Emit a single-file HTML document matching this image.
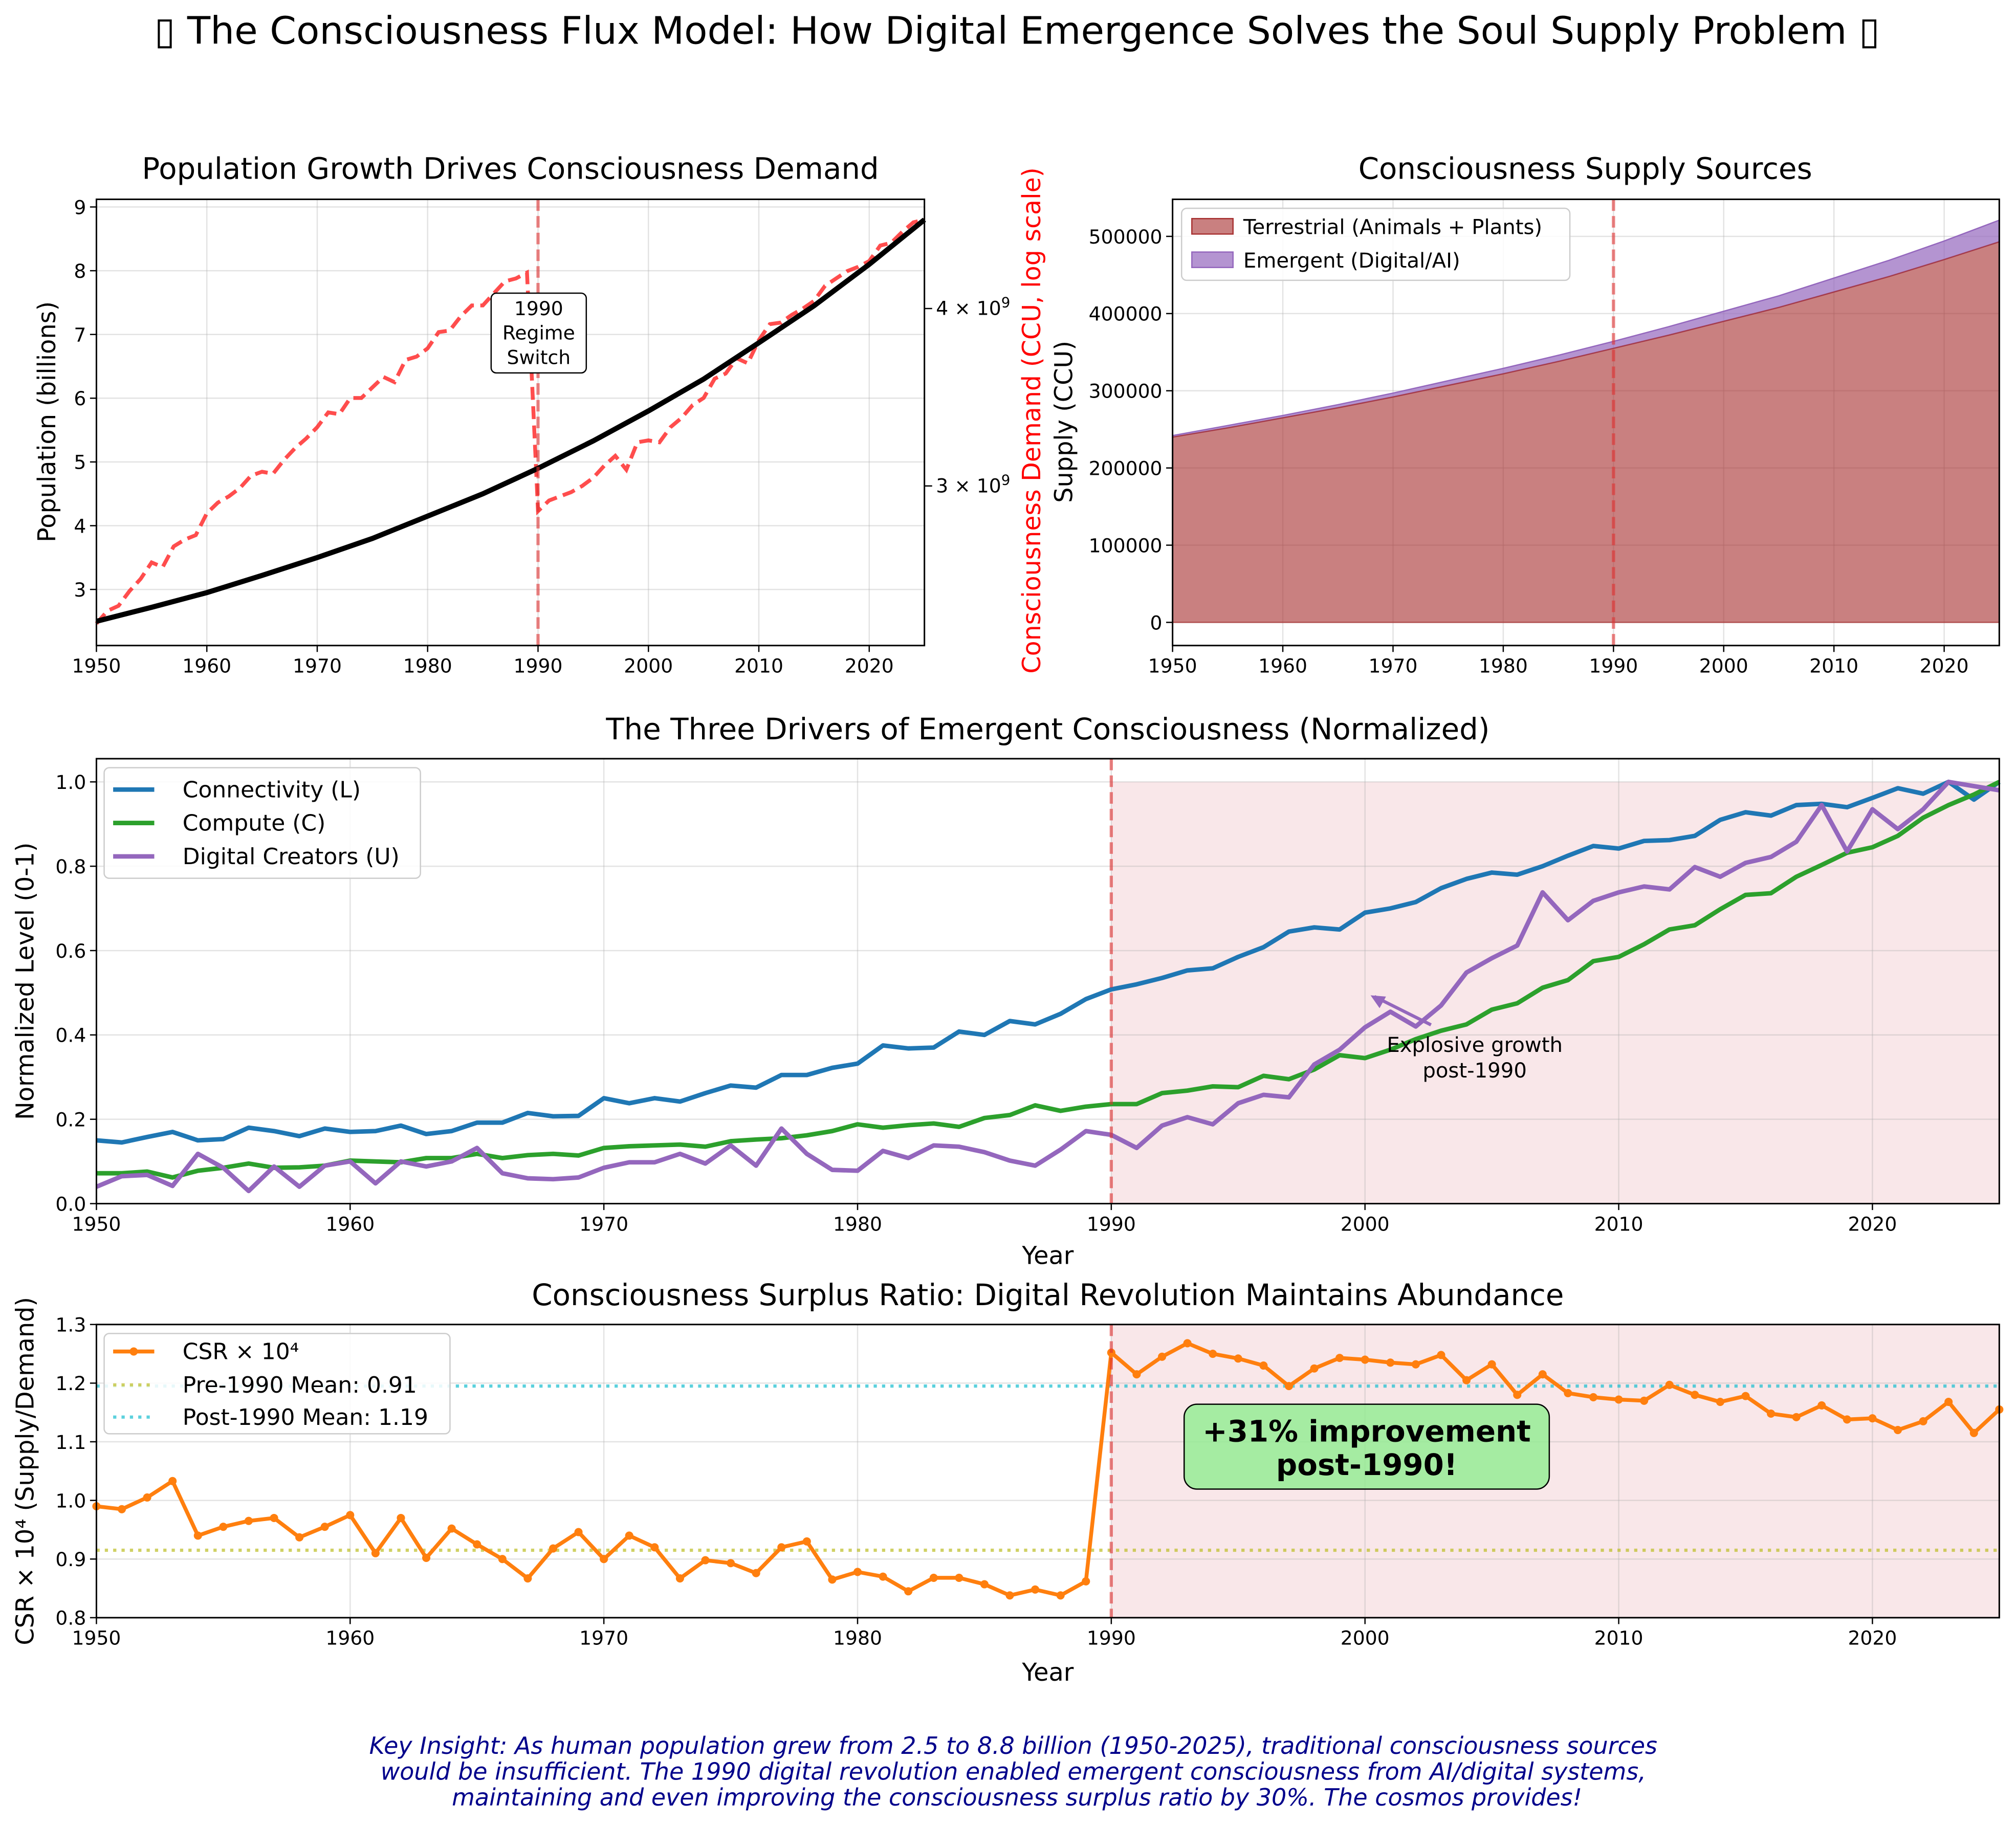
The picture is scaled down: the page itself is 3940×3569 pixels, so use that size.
<!DOCTYPE html>
<html><head><meta charset="utf-8"><style>
html,body{margin:0;padding:0;background:#fff;}
svg{display:block;font-family:"DejaVu Sans","Liberation Sans",sans-serif;}
</style></head><body>
<svg id="fig" width="3940" height="3569" viewBox="0 0 1568 1420" preserveAspectRatio="none" xmlns="http://www.w3.org/2000/svg">
<rect width="1568" height="1420" fill="#fff"/>
<text x="791" y="34" font-size="29.5" text-anchor="middle">▯ The Consciousness Flux Model: How Digital Emergence Solves the Soul Supply Problem ▯</text>
<g id="root"></g>
<text font-size="18.3" font-style="italic" fill="#00008b" text-anchor="middle">
<tspan x="791" y="1364">Key Insight: As human population grew from 2.5 to 8.8 billion (1950-2025), traditional consciousness sources</tspan>
<tspan x="791" y="1384">would be insufficient. The 1990 digital revolution enabled emergent consciousness from AI/digital systems,</tspan>
<tspan x="791" y="1404">maintaining and even improving the consciousness surplus ratio by 30%. The cosmos provides!</tspan>
</text>
</svg>
<script>
// ---- data ----
const years5 = [1950,1955,1960,1965,1970,1975,1980,1985,1990,1995,2000,2005,2010,2015,2020,2025];
const population = [2.5,2.72,2.95,3.22,3.5,3.8,4.15,4.5,4.9,5.33,5.8,6.3,6.87,7.45,8.1,8.8];
const demandPre = [2.40,2.45,2.47,2.53,2.58,2.65,2.63,2.72,2.75,2.77,2.87,2.92,2.95,2.99,3.05,3.07,3.06,3.13,3.19,3.24,3.3,3.38,3.37,3.46,3.46,3.52,3.58,3.55,3.68,3.7,3.75,3.85,3.86,3.95,4.02,4.02,4.1,4.18,4.2,4.24];
const demandPost = [2.88,2.93,2.95,2.97,3.0,3.04,3.1,3.15,3.08,3.22,3.23,3.22,3.3,3.35,3.42,3.46,3.57,3.6,3.69,3.66,3.8,3.9,3.91,3.96,4.0,4.05,4.15,4.2,4.25,4.28,4.32,4.43,4.45,4.53,4.6,4.62];
const terrestrial = [240000,252000,265000,278000,292000,307000,322000,338000,355000,372000,390000,408000,428000,448000,470000,493000];
const emergent = [2000,3000,3000,4000,5000,6000,7000,8000,9000,11000,13000,15000,18000,21000,24000,28000];
const connectivity = [.15,.145,.158,.17,.15,.153,.18,.172,.16,.178,.17,.172,.185,.165,.172,.192,.192,.215,.207,.208,.25,.238,.25,.242,.262,.28,.275,.305,.305,.322,.332,.375,.368,.37,.408,.4,.433,.425,.45,.485,.508,.52,.535,.553,.558,.585,.608,.645,.655,.65,.69,.7,.715,.748,.77,.785,.78,.8,.825,.848,.842,.86,.862,.872,.91,.928,.92,.945,.948,.94,.962,.985,.972,1.0,.958,1.0];
const compute = [.072,.072,.076,.062,.078,.085,.095,.085,.086,.09,.102,.1,.098,.108,.108,.118,.108,.115,.118,.114,.132,.136,.138,.14,.135,.148,.152,.155,.162,.172,.188,.18,.186,.19,.182,.203,.21,.233,.22,.23,.236,.236,.262,.268,.278,.276,.303,.295,.318,.352,.345,.365,.39,.41,.425,.46,.475,.512,.53,.575,.585,.615,.65,.66,.698,.732,.736,.775,.803,.832,.845,.872,.915,.945,.97,1.0];
const creators = [.04,.065,.068,.042,.118,.085,.03,.088,.04,.09,.1,.048,.1,.088,.1,.132,.072,.06,.058,.062,.085,.098,.098,.118,.095,.138,.09,.178,.118,.08,.078,.125,.108,.138,.135,.122,.102,.09,.128,.172,.163,.132,.185,.205,.188,.238,.258,.252,.33,.365,.418,.455,.42,.47,.548,.582,.612,.738,.672,.718,.738,.752,.745,.798,.775,.808,.822,.858,.945,.835,.935,.888,.935,1.0,.99,.98];
const csr = [.99,.985,1.005,1.033,.94,.955,.965,.97,.937,.955,.975,.91,.97,.902,.952,.925,.9,.867,.918,.946,.9,.94,.92,.867,.898,.893,.876,.92,.93,.865,.878,.87,.845,.868,.868,.857,.838,.848,.838,.862,1.252,1.215,1.245,1.268,1.25,1.242,1.23,1.195,1.225,1.243,1.24,1.235,1.232,1.248,1.205,1.232,1.18,1.215,1.183,1.176,1.172,1.17,1.197,1.18,1.168,1.178,1.148,1.142,1.162,1.138,1.14,1.12,1.135,1.168,1.115,1.155];
const preMean = [0.915];
const postMean = [1.195];
const xTicks = [1950,1960,1970,1980,1990,2000,2010,2020];

const NS='http://www.w3.org/2000/svg';
const root=document.getElementById('root');
function mk(tag,at,parent){const e=document.createElementNS(NS,tag);for(const k in at)e.setAttribute(k,at[k]);(parent||root).appendChild(e);return e;}
function txt(s,at,parent){const e=mk('text',at,parent);e.textContent=s;return e;}
function axes(x0,x1,y0,y1,ymin,ymax){return {x0,x1,y0,y1,X:v=>x0+(v-1950)/75*(x1-x0),Y:v=>y1-(v-ymin)/(ymax-ymin)*(y1-y0)};}
function pathFrom(xs,ys,A){return xs.map((x,i)=>(i?'L':'M')+A.X(x).toFixed(2)+','+A.Y(ys[i]).toFixed(2)).join('');}
const yearsAll=[];for(let y=1950;y<=2025;y++)yearsAll.push(y);
const TF=15, AF=19, LF=17.5, SF=23;

function frame(A,yt,fmt,name){
  let g;
  g=mk('g',{});
  
  
  xTicks.forEach(t=>{mk('line',{x1:A.X(t),x2:A.X(t),y1:A.y0,y2:A.y1,stroke:'#b0b0b0','stroke-opacity':.35,'stroke-width':1},g);});
  yt.forEach(t=>{mk('line',{x1:A.x0,x2:A.x1,y1:A.Y(t),y2:A.Y(t),stroke:'#b0b0b0','stroke-opacity':.35,'stroke-width':1},g);});
  g=mk('g',{'font-size':TF});
  
  
  xTicks.forEach(t=>{mk('line',{x1:A.X(t),x2:A.X(t),y1:A.y1,y2:A.y1+5,stroke:'#000'},g);txt(String(t),{x:A.X(t),y:A.y1+21,'text-anchor':'middle'},g);});
  g=mk('g',{'font-size':TF});
  
  
  yt.forEach(t=>{mk('line',{x1:A.x0-5,x2:A.x0,y1:A.Y(t),y2:A.Y(t),stroke:'#000'},g);txt(fmt(t),{x:A.x0-8,y:A.Y(t)+5.5,'text-anchor':'end'},g);});
}
function border(A,name){const e=mk('rect',{x:A.x0,y:A.y0,width:A.x1-A.x0,height:A.y1-A.y0,fill:'none',stroke:'#000','stroke-width':1.2});
  
  }
function vline(A,name){const e=mk('line',{x1:A.X(1990),x2:A.X(1990),y1:A.y0,y2:A.y1,stroke:'#e03030','stroke-opacity':.6,'stroke-width':2.5,'stroke-dasharray':'9,4'});
  
  }
let e;

// ---- Panel 1 ----
const A1=axes(75,719,155,502,2.12,9.12);
e=txt('Population Growth Drives Consciousness Demand',{x:397,y:139,'font-size':SF,'text-anchor':'middle'});


frame(A1,[3,4,5,6,7,8,9],t=>String(t),'population');
const lmin=Math.log(2.316),lmax=Math.log(4.775);
const YD=v=>A1.y1-(Math.log(v)-lmin)/(lmax-lmin)*(A1.y1-A1.y0);
const dem=demandPre.concat(demandPost);
e=mk('path',{d:yearsAll.map((y,i)=>(i?'L':'M')+A1.X(y).toFixed(2)+','+YD(dem[i]).toFixed(2)).join(''),fill:'none',stroke:'#ff2020','stroke-opacity':.8,'stroke-width':3,'stroke-dasharray':'10,5'});


e=mk('path',{d:pathFrom(years5,population,A1),fill:'none',stroke:'#000','stroke-width':4});


vline(A1,'population');
border(A1,'population');
const rg=mk('g',{'font-size':TF});


[[4,'4 × 10'],[3,'3 × 10']].forEach(([v,l])=>{mk('line',{x1:719,x2:725,y1:YD(v),y2:YD(v),stroke:'#000'},rg);const t=txt(l,{x:728,y:YD(v)+5},rg);const s=document.createElementNS(NS,'tspan');s.setAttribute('dy','-6');s.setAttribute('font-size','11');s.textContent='9';t.appendChild(s);});
e=txt('Population (billions)',{x:0,y:0,'font-size':AF,'text-anchor':'middle',transform:'translate(43,328) rotate(-90)'});


e=txt('Consciousness Demand (CCU, log scale)',{x:0,y:0,'font-size':19.5,fill:'#ff0000','text-anchor':'middle',transform:'translate(809,327) rotate(-90)'});


const ab=mk('g',{});


mk('rect',{x:382,y:228,width:74,height:62,rx:4,fill:'#fff',stroke:'#000','stroke-width':1},ab);
['1990','Regime','Switch'].forEach((s,i)=>txt(s,{x:419,y:245+i*19,'font-size':15,'text-anchor':'middle'},ab));

// ---- Panel 2 ----
const A2=axes(912,1555,155,502,-30000,548000);
e=txt('Consciousness Supply Sources',{x:1233,y:139,'font-size':SF,'text-anchor':'middle'});


frame(A2,[0,100000,200000,300000,400000,500000],t=>String(t),'supply');
const topT=terrestrial.map((v,i)=>v+emergent[i]);
e=mk('path',{d:pathFrom(years5,topT,A2)+years5.slice().reverse().map(y=>'L'+A2.X(y)+','+A2.Y(terrestrial[years5.indexOf(y)])).join('')+'Z',fill:'#9467bd','fill-opacity':.7,stroke:'#9467bd','stroke-width':1});


e=mk('path',{d:pathFrom(years5,terrestrial,A2)+'L'+A2.X(2025)+','+A2.Y(0)+'L'+A2.X(1950)+','+A2.Y(0)+'Z',fill:'#a83232','fill-opacity':.62,stroke:'#a83232','stroke-opacity':.7,'stroke-width':1});


vline(A2,'supply');
border(A2,'supply');
e=txt('Supply (CCU)',{x:0,y:0,'font-size':AF,'text-anchor':'middle',transform:'translate(834,328) rotate(-90)'});


const lg2=mk('g',{'font-size':16});


mk('rect',{x:919,y:162,width:302,height:56,rx:4,fill:'#fff','fill-opacity':.85,stroke:'#ccc'},lg2);
mk('rect',{x:927,y:170,width:32,height:12,fill:'#a83232','fill-opacity':.62,stroke:'#a83232'},lg2);
txt('Terrestrial (Animals + Plants)',{x:967,y:182},lg2);
mk('rect',{x:927,y:196,width:32,height:12,fill:'#9467bd','fill-opacity':.7,stroke:'#9467bd'},lg2);
txt('Emergent (Digital/AI)',{x:967,y:208},lg2);

// ---- Panel 3 ----
const A3=axes(75,1555,590,936,0,1.055);
e=txt('The Three Drivers of Emergent Consciousness (Normalized)',{x:815,y:575,'font-size':SF,'text-anchor':'middle'});


e=mk('rect',{x:A3.X(1990),y:A3.Y(1),width:A3.X(2025)-A3.X(1990),height:A3.Y(0)-A3.Y(1),fill:'#e8a0a8','fill-opacity':.25});


frame(A3,[0,.2,.4,.6,.8,1],t=>t.toFixed(1),'drivers');
[[connectivity,'#1f77b4','connectivity-line'],[compute,'#2ca02c','compute-line'],[creators,'#9467bd','creators-line']].forEach(([d,c,n])=>{
  const p=mk('path',{d:pathFrom(yearsAll,d,A3),fill:'none',stroke:c,'stroke-width':3.5,'stroke-linejoin':'round'});
  
  
});
vline(A3,'drivers');
border(A3,'drivers');
e=txt('Normalized Level (0-1)',{x:0,y:0,'font-size':AF,'text-anchor':'middle',transform:'translate(26,763) rotate(-90)'});


e=txt('Year',{x:815,y:983,'font-size':AF,'text-anchor':'middle'});


const lg3=mk('g',{'font-size':LF});


mk('rect',{x:81,y:597,width:246,height:86,rx:4,fill:'#fff','fill-opacity':.85,stroke:'#ccc'},lg3);
[['Connectivity (L)','#1f77b4'],['Compute (C)','#2ca02c'],['Digital Creators (U)','#9467bd']].forEach(([l,c],i)=>{
  mk('line',{x1:88,x2:120,y1:614+i*26,y2:614+i*26,stroke:c,'stroke-width':3.5},lg3);
  txt(l,{x:142,y:620+i*26},lg3);
});
const an3=mk('g',{});


mk('line',{x1:1113,y1:797,x2:1069,y2:775,stroke:'#9467bd','stroke-width':2.5},an3);
mk('path',{d:'M1066,774 L1078,775 L1073,784 Z',fill:'#9467bd'},an3);
txt('Explosive growth',{x:1147,y:818,'font-size':16,'text-anchor':'middle'},an3);
txt('post-1990',{x:1147,y:838,'font-size':16,'text-anchor':'middle'},an3);

// ---- Panel 4 ----
const A4=axes(75,1555,1030,1258,0.8,1.3);
e=txt('Consciousness Surplus Ratio: Digital Revolution Maintains Abundance',{x:815,y:1015,'font-size':SF,'text-anchor':'middle'});


e=mk('rect',{x:A4.X(1990),y:A4.y0,width:A4.X(2025)-A4.X(1990),height:A4.y1-A4.y0,fill:'#e8a0a8','fill-opacity':.25});


frame(A4,[.8,.9,1.0,1.1,1.2,1.3],t=>t.toFixed(1),'csr');
e=mk('line',{x1:A4.x0,x2:A4.x1,y1:A4.Y(preMean[0]),y2:A4.Y(preMean[0]),stroke:'#bcbd22','stroke-opacity':.7,'stroke-width':2.5,'stroke-dasharray':'2.5,4'});


e=mk('line',{x1:A4.x0,x2:A4.x1,y1:A4.Y(postMean[0]),y2:A4.Y(postMean[0]),stroke:'#17becf','stroke-opacity':.7,'stroke-width':2.5,'stroke-dasharray':'2.5,4'});


e=mk('path',{d:pathFrom(yearsAll,csr,A4),fill:'none',stroke:'#ff7f0e','stroke-width':3,'stroke-linejoin':'round'});


const mg=mk('g',{fill:'#ff7f0e'});


yearsAll.forEach((y,i)=>{const c=mk('circle',{cx:A4.X(y),cy:A4.Y(csr[i]),r:3.2},mg);
  
  });
vline(A4,'csr');
border(A4,'csr');
e=txt('CSR × 10⁴ (Supply/Demand)',{x:0,y:0,'font-size':AF,'text-anchor':'middle',transform:'translate(26,1144) rotate(-90)'});


e=txt('Year',{x:815,y:1307,'font-size':AF,'text-anchor':'middle'});


const lg4=mk('g',{'font-size':LF});


mk('rect',{x:81,y:1037,width:269,height:78,rx:4,fill:'#fff','fill-opacity':.85,stroke:'#ccc'},lg4);
mk('line',{x1:88,x2:120,y1:1051,y2:1051,stroke:'#ff7f0e','stroke-width':3},lg4);
mk('circle',{cx:104,cy:1051,r:3.2,fill:'#ff7f0e'},lg4);
txt('CSR × 10⁴',{x:142,y:1057},lg4);
mk('line',{x1:88,x2:120,y1:1077,y2:1077,stroke:'#bcbd22','stroke-opacity':.7,'stroke-width':2.5,'stroke-dasharray':'2.5,4'},lg4);
txt('Pre-1990 Mean: 0.91',{x:142,y:1083},lg4);
mk('line',{x1:88,x2:120,y1:1102,y2:1102,stroke:'#17becf','stroke-opacity':.7,'stroke-width':2.5,'stroke-dasharray':'2.5,4'},lg4);
txt('Post-1990 Mean: 1.19',{x:142,y:1108},lg4);
const bx=mk('g',{});


mk('rect',{x:921,y:1092,width:284,height:66,rx:10,fill:'#90ee90','fill-opacity':.8,stroke:'#000','stroke-width':1},bx);
txt('+31% improvement',{x:1063,y:1121,'font-size':23,'font-weight':'bold','text-anchor':'middle'},bx);
txt('post-1990!',{x:1063,y:1147,'font-size':23,'font-weight':'bold','text-anchor':'middle'},bx);
</script>
</body></html>
